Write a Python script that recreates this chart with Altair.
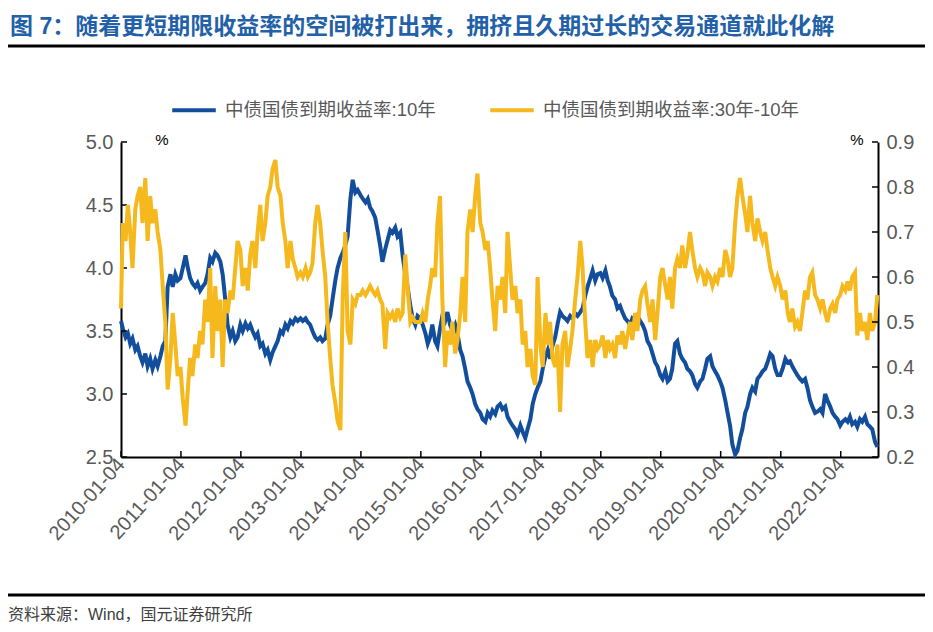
import altair as alt
import pandas as pd

BLUE_NAME = "中债国债到期收益率:10年"
YELLOW_NAME = "中债国债到期收益率:30年-10年"
BLUE = "#124E9C"
YELLOW = "#F5B91E"
GREY = "#595959"
NUM_FONT = "Liberation Sans, Arial, Noto Sans CJK SC"

YEARS = list(range(2010, 2023))

# 10Y yield (%), half-monthly readings (1st & 15th of each month)
BLUE_2010 = [3.58, 3.52, 3.45, 3.48, 3.40, 3.44, 3.35, 3.38, 3.30, 3.25, 3.32, 3.22, 3.28, 3.20, 3.27, 3.22, 3.30, 3.38, 3.42, 3.85, 3.95, 3.85, 3.95, 3.90]
BLUE_2011 = [3.92, 4.00, 4.10, 4.00, 3.92, 3.88, 3.85, 3.88, 3.82, 3.85, 3.88, 3.95, 4.08, 4.05, 4.12, 4.10, 4.05, 3.95, 3.75, 3.55, 3.45, 3.50, 3.42, 3.45]
BLUE_2012 = [3.55, 3.50, 3.56, 3.52, 3.55, 3.50, 3.45, 3.48, 3.38, 3.40, 3.32, 3.35, 3.27, 3.33, 3.38, 3.42, 3.50, 3.48, 3.55, 3.52, 3.58, 3.56, 3.60, 3.58]
BLUE_2013 = [3.60, 3.58, 3.60, 3.57, 3.55, 3.50, 3.45, 3.43, 3.45, 3.42, 3.44, 3.55, 3.62, 3.75, 3.90, 4.00, 4.08, 4.12, 4.18, 4.25, 4.55, 4.70, 4.60, 4.62]
BLUE_2014 = [4.58, 4.55, 4.52, 4.55, 4.48, 4.45, 4.40, 4.30, 4.18, 4.05, 4.15, 4.22, 4.30, 4.28, 4.32, 4.25, 4.28, 4.10, 3.95, 3.85, 3.70, 3.60, 3.55, 3.62]
BLUE_2015 = [3.60, 3.55, 3.48, 3.40, 3.45, 3.55, 3.42, 3.38, 3.52, 3.62, 3.58, 3.65, 3.55, 3.50, 3.55, 3.48, 3.35, 3.30, 3.20, 3.10, 3.05, 3.00, 2.92, 2.88]
BLUE_2016 = [2.85, 2.80, 2.78, 2.85, 2.82, 2.87, 2.84, 2.90, 2.92, 2.88, 2.90, 2.82, 2.78, 2.75, 2.72, 2.68, 2.75, 2.70, 2.65, 2.72, 2.80, 2.92, 3.00, 3.05]
BLUE_2017 = [3.10, 3.20, 3.30, 3.35, 3.28, 3.38, 3.45, 3.55, 3.65, 3.62, 3.60, 3.58, 3.62, 3.60, 3.64, 3.62, 3.65, 3.68, 3.78, 3.85, 3.92, 3.98, 3.90, 3.95]
BLUE_2018 = [3.96, 3.92, 3.98, 3.90, 3.85, 3.78, 3.75, 3.68, 3.70, 3.65, 3.60, 3.58, 3.55, 3.60, 3.58, 3.62, 3.58, 3.55, 3.50, 3.42, 3.38, 3.32, 3.25, 3.22]
BLUE_2019 = [3.15, 3.12, 3.18, 3.10, 3.12, 3.20, 3.40, 3.42, 3.32, 3.28, 3.25, 3.20, 3.18, 3.15, 3.08, 3.05, 3.10, 3.12, 3.20, 3.28, 3.30, 3.22, 3.18, 3.15]
BLUE_2020 = [3.10, 3.05, 2.95, 2.85, 2.75, 2.60, 2.52, 2.55, 2.65, 2.72, 2.85, 2.90, 3.00, 3.05, 3.02, 3.12, 3.15, 3.18, 3.20, 3.25, 3.32, 3.30, 3.20, 3.15]
BLUE_2021 = [3.15, 3.20, 3.28, 3.25, 3.26, 3.22, 3.18, 3.15, 3.12, 3.10, 3.12, 3.05, 2.95, 2.90, 2.85, 2.86, 2.88, 2.85, 3.00, 2.95, 2.90, 2.85, 2.82, 2.80]
BLUE_2022 = [2.75, 2.78, 2.80, 2.78, 2.82, 2.76, 2.78, 2.74, 2.80, 2.78, 2.82, 2.76, 2.74, 2.72, 2.62, 2.58]

# 30Y-10Y spread (%), same dates
YEL_2010 = [0.53, 0.72, 0.68, 0.76, 0.70, 0.62, 0.75, 0.78, 0.80, 0.72, 0.82, 0.68, 0.78, 0.72, 0.75, 0.70, 0.66, 0.58, 0.50, 0.35, 0.42, 0.52, 0.45, 0.38]
YEL_2011 = [0.40, 0.33, 0.27, 0.35, 0.42, 0.38, 0.45, 0.42, 0.48, 0.45, 0.55, 0.50, 0.62, 0.42, 0.58, 0.48, 0.55, 0.40, 0.55, 0.52, 0.57, 0.55, 0.62, 0.68]
YEL_2012 = [0.66, 0.58, 0.62, 0.57, 0.65, 0.68, 0.62, 0.70, 0.76, 0.68, 0.72, 0.78, 0.80, 0.84, 0.86, 0.80, 0.78, 0.72, 0.68, 0.62, 0.68, 0.64, 0.62, 0.60]
YEL_2013 = [0.61, 0.60, 0.62, 0.60, 0.61, 0.63, 0.72, 0.76, 0.72, 0.66, 0.60, 0.50, 0.42, 0.36, 0.32, 0.28, 0.26, 0.55, 0.70, 0.48, 0.45, 0.55, 0.54, 0.56]
YEL_2014 = [0.56, 0.57, 0.56, 0.57, 0.58, 0.57, 0.56, 0.57, 0.55, 0.54, 0.44, 0.52, 0.51, 0.52, 0.50, 0.53, 0.51, 0.52, 0.65, 0.58, 0.50, 0.51, 0.50, 0.50]
YEL_2015 = [0.50, 0.52, 0.50, 0.55, 0.58, 0.62, 0.60, 0.72, 0.78, 0.55, 0.40, 0.48, 0.45, 0.50, 0.43, 0.46, 0.52, 0.60, 0.50, 0.70, 0.75, 0.70, 0.78, 0.83]
YEL_2016 = [0.72, 0.70, 0.66, 0.68, 0.62, 0.55, 0.48, 0.58, 0.55, 0.60, 0.52, 0.70, 0.62, 0.55, 0.58, 0.52, 0.55, 0.45, 0.48, 0.40, 0.44, 0.38, 0.36, 0.60]
YEL_2017 = [0.45, 0.40, 0.52, 0.45, 0.50, 0.42, 0.40, 0.45, 0.30, 0.45, 0.48, 0.40, 0.44, 0.48, 0.55, 0.60, 0.68, 0.62, 0.50, 0.42, 0.46, 0.40, 0.46, 0.44]
YEL_2018 = [0.45, 0.47, 0.42, 0.46, 0.44, 0.45, 0.42, 0.47, 0.45, 0.48, 0.44, 0.47, 0.50, 0.46, 0.52, 0.48, 0.55, 0.57, 0.58, 0.54, 0.50, 0.55, 0.46, 0.52]
YEL_2019 = [0.60, 0.62, 0.58, 0.55, 0.60, 0.53, 0.62, 0.64, 0.62, 0.67, 0.62, 0.65, 0.70, 0.66, 0.62, 0.60, 0.62, 0.61, 0.58, 0.61, 0.60, 0.58, 0.60, 0.59]
YEL_2020 = [0.62, 0.60, 0.66, 0.64, 0.60, 0.62, 0.72, 0.78, 0.82, 0.78, 0.74, 0.70, 0.78, 0.72, 0.68, 0.73, 0.70, 0.68, 0.70, 0.66, 0.62, 0.60, 0.58, 0.60]
YEL_2021 = [0.58, 0.55, 0.57, 0.52, 0.50, 0.53, 0.49, 0.50, 0.48, 0.52, 0.57, 0.55, 0.60, 0.61, 0.56, 0.55, 0.53, 0.55, 0.52, 0.50, 0.53, 0.54, 0.52, 0.55]
YEL_2022 = [0.56, 0.58, 0.57, 0.59, 0.57, 0.60, 0.61, 0.47, 0.52, 0.48, 0.50, 0.46, 0.52, 0.48, 0.50, 0.56]

BLUE_VALUES = (BLUE_2010 + BLUE_2011 + BLUE_2012 + BLUE_2013 + BLUE_2014 + BLUE_2015 + BLUE_2016
               + BLUE_2017 + BLUE_2018 + BLUE_2019 + BLUE_2020 + BLUE_2021 + BLUE_2022)
YEL_VALUES = (YEL_2010 + YEL_2011 + YEL_2012 + YEL_2013 + YEL_2014 + YEL_2015 + YEL_2016
              + YEL_2017 + YEL_2018 + YEL_2019 + YEL_2020 + YEL_2021 + YEL_2022)

DATES = []
for y in YEARS:
    n = 16 if y == 2022 else 24
    for i in range(n):
        DATES.append(f"{y}-{i // 2 + 1:02d}-{1 if i % 2 == 0 else 15:02d}T00:00:00")
DATES[0] = "2010-01-04T00:00:00"

X_TICK_YEARS = list(range(2010, 2023))
LEFT_TICKS = [2.5, 3.0, 3.5, 4.0, 4.5, 5.0]
RIGHT_TICKS = [0.2, 0.3, 0.4, 0.5, 0.6, 0.7, 0.8, 0.9]

TITLE = "图 7：随着更短期限收益率的空间被打出来，拥挤且久期过长的交易通道就此化解"
SOURCE = "资料来源：Wind，国元证券研究所"

W, H = 757, 315

df_blue = pd.DataFrame({"date": DATES, "value": BLUE_VALUES, "series": BLUE_NAME})
df_yel = pd.DataFrame({"date": DATES, "value": YEL_VALUES, "series": YELLOW_NAME})
df_xt = pd.DataFrame({"date": [f"{y}-01-04T00:00:00" for y in X_TICK_YEARS]})
df_lt = pd.DataFrame({"v": LEFT_TICKS})
df_rt = pd.DataFrame({"v": RIGHT_TICKS})

x_scale = alt.Scale(domain=[alt.DateTime(year=2010, month=1, date=4),
                            alt.DateTime(year=2022, month=8, date=19)])
x_axis = alt.Axis(
    values=[alt.DateTime(year=y, month=1, date=4) for y in X_TICK_YEARS],
    format="%Y-%m-%d", labelAngle=312, labelAlign="right", labelBaseline="middle",
    labelFontSize=20, labelColor=GREY, labelFont=NUM_FONT, labelPadding=4,
    labelFlush=False, labelOverlap=False, tickSize=0, domainColor="black",
    domainWidth=2, grid=False, title=None,
)
color_scale = alt.Scale(domain=[BLUE_NAME, YELLOW_NAME], range=[BLUE, YELLOW])
legend = alt.Legend(
    title=None, orient="none", legendX=49, legendY=-56, direction="horizontal",
    symbolType="stroke", symbolSize=1900, symbolStrokeWidth=4, padding=0,
    labelFontSize=18.5, labelColor=GREY, labelFont=NUM_FONT, labelOffset=7,
    columnPadding=46, labelLimit=500,
)

left_scale = alt.Scale(domain=[2.5, 5.0], nice=False, zero=False)
right_scale = alt.Scale(domain=[0.2, 0.9], nice=False, zero=False)

blue_line = alt.Chart(df_blue).mark_line(strokeWidth=4).encode(
    x=alt.X("date:T", scale=x_scale, axis=x_axis),
    y=alt.Y("value:Q", scale=left_scale, axis=alt.Axis(
        values=LEFT_TICKS, format=".1f", orient="left", tickSize=0, labelPadding=8,
        labelFontSize=20, labelColor=GREY, labelFont=NUM_FONT, domainColor="black",
        domainWidth=2, grid=False, title=None)),
    color=alt.Color("series:N", scale=color_scale, legend=legend),
)
left_ticks = alt.Chart(df_lt).mark_rule(color="black", strokeWidth=1.5).encode(
    y=alt.Y("v:Q", scale=left_scale), x=alt.value(0), x2=alt.value(6))

yel_line = alt.Chart(df_yel).mark_line(strokeWidth=4).encode(
    x=alt.X("date:T", scale=x_scale, axis=x_axis),
    y=alt.Y("value:Q", scale=right_scale, axis=alt.Axis(
        values=RIGHT_TICKS, format=".1f", orient="right", tickSize=0, labelPadding=8,
        labelFontSize=20, labelColor=GREY, labelFont=NUM_FONT, domainColor="black",
        domainWidth=2, grid=False, title=None)),
    color=alt.Color("series:N", scale=color_scale, legend=legend),
)
right_ticks = alt.Chart(df_rt).mark_rule(color="black", strokeWidth=1.5).encode(
    y=alt.Y("v:Q", scale=right_scale), x=alt.value(W - 6), x2=alt.value(W))

x_ticks = alt.Chart(df_xt).mark_rule(color="black", strokeWidth=1.5).encode(
    x=alt.X("date:T", scale=x_scale), y=alt.value(H - 6), y2=alt.value(H))

one = alt.Data(values=[{}])
title_text = alt.Chart(one).mark_text(
    text=TITLE, align="left", baseline="middle", fontSize=23, fontWeight="bold",
    color="#2260A8", font="Liberation Sans, Noto Sans CJK SC").encode(
    x=alt.value(-111), y=alt.value(-115))
top_rule = alt.Chart(one).mark_rule(color="black", strokeWidth=3).encode(
    x=alt.value(-113), x2=alt.value(W + 47), y=alt.value(-96))
bottom_rule = alt.Chart(one).mark_rule(color="black", strokeWidth=3).encode(
    x=alt.value(-113), x2=alt.value(W + 47), y=alt.value(453))
source_text = alt.Chart(one).mark_text(
    text=SOURCE, align="left", baseline="middle", fontSize=16, color="#404040",
    font=NUM_FONT).encode(x=alt.value(-113), y=alt.value(473))
pct_left = alt.Chart(one).mark_text(
    text="%", align="center", baseline="middle", fontSize=15, color="black",
    font=NUM_FONT).encode(x=alt.value(41), y=alt.value(-2))
pct_right = alt.Chart(one).mark_text(
    text="%", align="center", baseline="middle", fontSize=15, color="black",
    font=NUM_FONT).encode(x=alt.value(736), y=alt.value(-2))

left_group = alt.layer(blue_line, left_ticks)
right_group = alt.layer(yel_line, right_ticks)

chart = alt.layer(
    left_group, right_group, x_ticks, title_text, top_rule, bottom_rule,
    source_text, pct_left, pct_right,
).resolve_scale(y="independent").properties(
    width=W, height=H,
    padding={"left": 113, "top": 134, "right": 47, "bottom": 167},
    autosize=alt.AutoSizeParams(type="none"),
).configure_view(stroke=None)

chart.save("out.html", embed_options={"renderer": "svg", "actions": False})
